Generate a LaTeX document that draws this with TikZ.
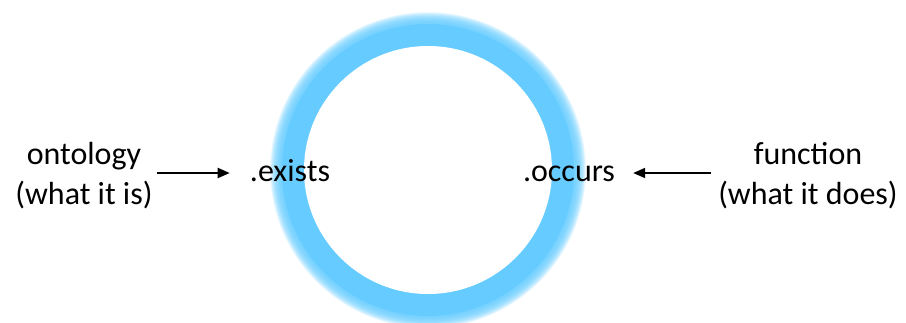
\documentclass[tikz,border=0pt]{standalone}
\usepackage{fontspec}
\setmainfont{Carlito}
\usepackage{tikz}
\usetikzlibrary{positioning,arrows.meta}
\definecolor{ring-blue}{RGB}{102, 204, 255}

\begin{document}
\begin{tikzpicture}[x=1pt, y=-1pt,
    word/.style={font=\fontsize{32}{40}\selectfont, inner sep=0pt},
    tag/.style={word, text height=16pt, text depth=0pt},
    pointer/.style={-{Triangle[length=12pt, width=10pt]}, line width=1.8pt}]
        \useasboundingbox (0,0) rectangle (906,322);
        \clip (0,0) rectangle (906,322);
        % Soft outer edge of the ring
        \foreach \r in {146.5,147,...,158}
            \fill[ring-blue, opacity=0.09] (428,170) circle (\r);
        % Ring
        \fill[ring-blue] (428,170) circle (146);
        \fill[white] (428,170) circle (124);
        % Labels
        \node[tag] (exists) at (290,173) {.exists};
        \node[tag] (occurs) at (569,173) {.occurs};
        \node[word, align=center] (ontology) at (84,176) {ontology\\(what it is)};
        \node[word, align=center] (function) at (808,176) {function\\(what it does)};
        % Arrows
        \draw[pointer, shorten <=4pt, shorten >=20pt] (ontology.east |- exists) -- (exists.west);
        \draw[pointer, shorten <=7pt, shorten >=18pt] (function.west |- occurs) -- (occurs.east);
    \end{tikzpicture}
\end{document}
